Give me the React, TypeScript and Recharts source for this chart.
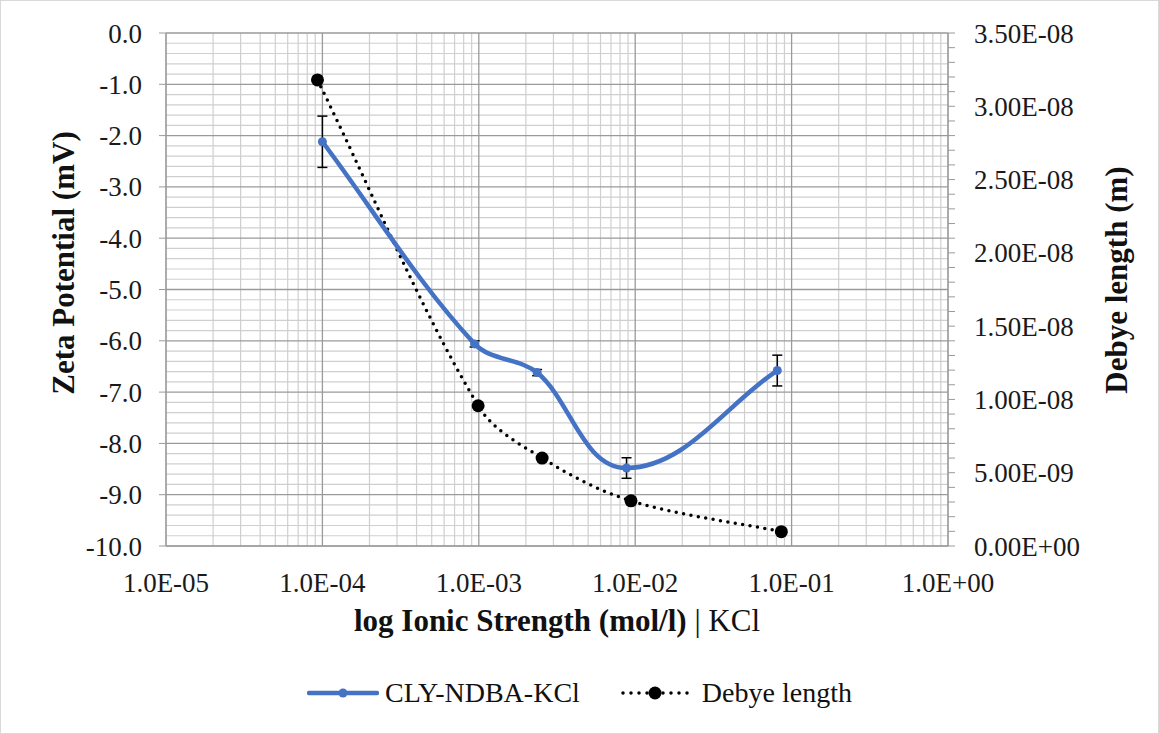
import React from "react";
import {
  CartesianGrid,
  ComposedChart,
  ErrorBar,
  Label,
  Legend,
  Line,
  XAxis,
  YAxis,
} from "recharts";

// CLY-NDBA-KCl zeta potential (mV) vs ionic strength (mol/l)
const zetaIonic = [1e-4, 9.4e-4, 2.36e-3, 8.8e-3, 8.1e-2];
const zetaValues = [-2.12, -6.06, -6.62, -8.48, -6.58];
const zetaErrors = [0.5, 0.06, 0.06, 0.2, 0.3];

// Debye length (m) vs ionic strength (mol/l)
const debyeIonic = [9.3e-5, 9.9e-4, 2.54e-3, 9.4e-3, 8.6e-2];
const debyeValues = [3.18e-8, 9.57e-9, 6.0e-9, 3.08e-9, 9.8e-10];

const xTicks = [1e-5, 1e-4, 1e-3, 1e-2, 1e-1, 1];
const zetaTicks = [-10, -9, -8, -7, -6, -5, -4, -3, -2, -1, 0];
const debyeTicks = Array.from({ length: 36 }, (_, i) => Number((i * 1e-9).toPrecision(3)));

const xMinor: number[] = [];
for (let d = -5; d < 0; d++) {
  for (let k = 2; k <= 9; k++) xMinor.push(Number((k * Math.pow(10, d)).toPrecision(3)));
}
const yMinor: number[] = [];
for (let i = -50; i <= 0; i++) {
  if (i % 5 !== 0) yMinor.push(Number((i * 0.2).toFixed(1)));
}

const zetaData = zetaIonic.map((x, i) => ({ x, zeta: zetaValues[i], err: zetaErrors[i] }));
const debyeData = debyeIonic.map((x, i) => ({ x, debye: debyeValues[i] }));

const FONT = "Liberation Serif, Tinos, DejaVu Serif, serif";
const BLUE = "#4472C4";

function sci(v: number, digits: number) {
  const [m, e] = v.toExponential(digits).split("e");
  const n = Math.abs(parseInt(e, 10));
  return `${m}E${e.startsWith("-") ? "-" : "+"}${String(n).padStart(2, "0")}`;
}

// Excel-like smoothed line: tangent from neighbours, handle length from segment length
function smoothCurve(context: any) {
  let pts: [number, number][] = [];
  const tangent = (i: number) => {
    const a = pts[Math.max(i - 1, 0)];
    const b = pts[Math.min(i + 1, pts.length - 1)];
    const dx = b[0] - a[0];
    const dy = b[1] - a[1];
    const len = Math.hypot(dx, dy) || 1;
    return [dx / len, dy / len];
  };
  return {
    areaStart() {},
    areaEnd() {},
    lineStart() {
      pts = [];
    },
    point(x: number, y: number) {
      pts.push([+x, +y]);
    },
    lineEnd() {
      if (!pts.length) return;
      context.moveTo(pts[0][0], pts[0][1]);
      for (let i = 0; i < pts.length - 1; i++) {
        const p1 = pts[i];
        const p2 = pts[i + 1];
        const L = Math.hypot(p2[0] - p1[0], p2[1] - p1[1]) / 3;
        const t1 = tangent(i);
        const t2 = tangent(i + 1);
        context.bezierCurveTo(
          p1[0] + t1[0] * L,
          p1[1] + t1[1] * L,
          p2[0] - t2[0] * L,
          p2[1] - t2[1] * L,
          p2[0],
          p2[1]
        );
      }
    },
  };
}

function ChartLegend() {
  return (
    <div
      style={{
        display: "flex",
        justifyContent: "center",
        alignItems: "center",
        fontFamily: FONT,
        fontSize: 28,
        color: "#111",
      }}
    >
      <svg width={72} height={20} style={{ marginRight: 6 }}>
        <line x1={2} y1={10} x2={70} y2={10} stroke={BLUE} strokeWidth={4.5} strokeLinecap="round" />
        <circle cx={36} cy={10} r={4.5} fill={BLUE} />
      </svg>
      <span>CLY-NDBA-KCl</span>
      <svg width={74} height={20} style={{ marginLeft: 40, marginRight: 8 }}>
        <line
          x1={3}
          y1={10}
          x2={72}
          y2={10}
          stroke="#000"
          strokeWidth={3.5}
          strokeDasharray="0 8"
          strokeLinecap="round"
        />
        <circle cx={35} cy={10} r={6.5} fill="#000" />
      </svg>
      <span>Debye length</span>
    </div>
  );
}

export default function App() {
  const tickStyle = { fontFamily: FONT, fontSize: 27, fill: "#1a1a1a" };

  return (
    <div
      style={{
        position: "absolute",
        left: 0,
        top: 0,
        width: 1159,
        height: 734,
        boxSizing: "border-box",
        border: "1px solid #d9d9d9",
        background: "#fff",
        fontFamily: FONT,
      }}
    >
      <ComposedChart width={1157} height={732} margin={{ top: 32, right: 0, bottom: 0, left: 0 }}>
        <CartesianGrid
          yAxisId="left"
          stroke="#cfcfcf"
          strokeWidth={1.2}
          verticalValues={xMinor}
          horizontalValues={yMinor}
        />
        <CartesianGrid
          yAxisId="left"
          stroke="#9a9a9a"
          strokeWidth={1.3}
          verticalValues={xTicks}
          horizontalValues={zetaTicks}
        />
        <XAxis
          dataKey="x"
          type="number"
          scale="log"
          domain={[1e-5, 1]}
          ticks={xTicks}
          interval={0}
          allowDataOverflow
          height={187}
          tickSize={0}
          tickMargin={27}
          axisLine={{ stroke: "#9a9a9a" }}
          tick={tickStyle}
          tickFormatter={(v: number) => sci(v, 1)}
        >
          <Label
            content={({ viewBox }: any) => (
              <text
                x={viewBox.x + viewBox.width / 2}
                y={630}
                textAnchor="middle"
                fontFamily={FONT}
                fontSize={31}
                fill="#111"
              >
                <tspan fontWeight="bold">log Ionic Strength (mol/l)</tspan>
                <tspan> | KCl</tspan>
              </text>
            )}
          />
        </XAxis>
        <YAxis
          yAxisId="left"
          domain={[-10, 0]}
          ticks={zetaTicks}
          interval={0}
          width={165}
          tickSize={7}
          tickMargin={17}
          tickLine={{ stroke: "#9a9a9a" }}
          axisLine={{ stroke: "#9a9a9a" }}
          tick={tickStyle}
          tickFormatter={(v: number) => v.toFixed(1)}
        >
          <Label
            content={() => (
              <text
                x={62}
                y={262}
                transform="rotate(-90 62 262)"
                textAnchor="middle"
                dominantBaseline="central"
                fontFamily={FONT}
                fontSize={31}
                fontWeight="bold"
                fill="#111"
              >
                Zeta Potential (mV)
              </text>
            )}
          />
        </YAxis>
        <YAxis
          yAxisId="right"
          orientation="right"
          domain={[0, 3.5e-8]}
          ticks={debyeTicks}
          interval={0}
          width={210}
          tickSize={7}
          tickMargin={19}
          tickLine={{ stroke: "#9a9a9a" }}
          axisLine={{ stroke: "#9a9a9a" }}
          tick={tickStyle}
          tickFormatter={(v: number) => (Math.round(v / 1e-9) % 5 === 0 ? sci(v, 2) : "")}
        >
          <Label
            content={() => (
              <text
                x={1115}
                y={279}
                transform="rotate(-90 1115 279)"
                textAnchor="middle"
                dominantBaseline="central"
                fontFamily={FONT}
                fontSize={31}
                fontWeight="bold"
                fill="#111"
              >
                Debye length (m)
              </text>
            )}
          />
        </YAxis>
        <Legend
          verticalAlign="middle"
          align="center"
          content={() => <ChartLegend />}
          wrapperStyle={{ top: 676, left: 0, width: 1157, height: 40 }}
        />
        <Line
          yAxisId="right"
          data={debyeData}
          dataKey="debye"
          type={smoothCurve as any}
          stroke="#000"
          strokeWidth={3.5}
          strokeDasharray="0 7.5"
          strokeLinecap="round"
          dot={{ r: 6.5, fill: "#000", stroke: "none" }}
          activeDot={false}
          isAnimationActive={false}
        />
        <Line
          yAxisId="left"
          data={zetaData}
          dataKey="zeta"
          type={smoothCurve as any}
          stroke={BLUE}
          strokeWidth={4.5}
          dot={{ r: 4.5, fill: BLUE, stroke: "none" }}
          activeDot={false}
          isAnimationActive={false}
        >
          <ErrorBar dataKey="err" direction="y" width={5} stroke="#000" strokeWidth={1.5} />
        </Line>
      </ComposedChart>
    </div>
  );
}
